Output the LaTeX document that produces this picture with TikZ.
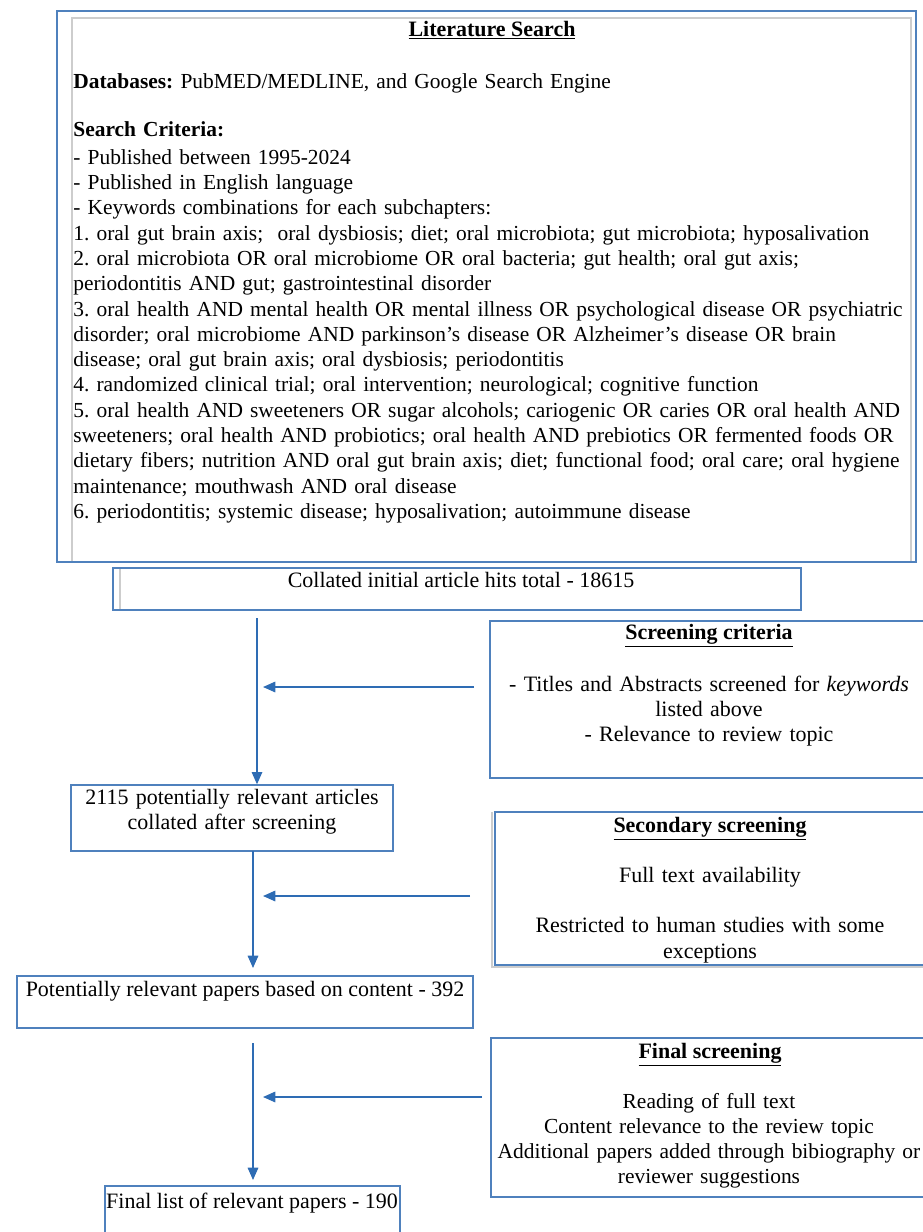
\documentclass[tikz,border=0pt]{standalone}
\usepackage{fontspec}
\setmainfont{Liberation Serif}
\usetikzlibrary{arrows.meta}
\definecolor{boxblue}{RGB}{79,129,189}
\definecolor{arrblue}{RGB}{46,108,180}
\definecolor{innergray}{RGB}{205,205,205}
\newcommand{\boxfont}{\fontsize{12.5pt}{14.4pt}\selectfont\frenchspacing}
\newcommand{\listfont}{\fontsize{12.2pt}{14.4pt}\selectfont\frenchspacing}
\begin{document}
\begin{tikzpicture}[x=0.02cm, y=-0.02cm,
    box/.style={draw=boxblue, line width=0.8pt, inner sep=0pt},
    txt/.style={inner sep=0pt, font=\boxfont},
    inner/.style={draw=innergray, line width=0.8pt},
    arr/.style={draw=arrblue, line width=0.8pt, -{Triangle[length=7pt,width=6pt]}}]
    \useasboundingbox (0,0) rectangle (923,1232);
    \clip (0,0) rectangle (923,1232);
    % boxes
    \node[box, minimum width=17.18cm, minimum height=11.02cm] (search) at (486.5,286.5) {};
    \draw[inner] (72,561) -- (72,18) -- (911,18) -- (911,561);
    \node[box, minimum width=13.76cm, minimum height=0.84cm] (hits) at (457,589) {};
    \draw[inner] (120,569) -- (120,609);
    \node[box, minimum width=9cm, minimum height=3.14cm] (screen) at (715,699.5) {};
    \node[box, minimum width=6.44cm, minimum height=1.32cm] (rel) at (232,818) {};
    \draw[inner] (492,812) -- (492,967) -- (940,967);
    \node[box, minimum width=8.9cm, minimum height=3.06cm] (second) at (717.5,888.5) {};
    \node[box, minimum width=9.12cm, minimum height=1.04cm] (pot) at (245,1002) {};
    \node[box, minimum width=8.98cm, minimum height=3.18cm] (final) at (715.5,1117.5) {};
    \node[box, minimum width=5.9cm, minimum height=1.48cm] (list) at (252.5,1223) {};
    % texts
    \node[txt, anchor=base] (search-title) at (492,36) {\underline{\textbf{Literature Search}}};
    \node[txt, font=\listfont, anchor=base west, text width=17.5cm, align=left] (search-body) at (73,88) {%
        \textbf{Databases:} PubMED/MEDLINE, and Google Search Engine\\[13.4pt]
        \textbf{Search Criteria:}\\[1.2pt]
        - Published between 1995-2024\\
        - Published in English language\\
        - Keywords combinations for each subchapters:\\
        1. oral gut brain axis;\ \ oral dysbiosis; diet; oral microbiota; gut microbiota; hyposalivation\\
        2. oral microbiota OR oral microbiome OR oral bacteria; gut health; oral gut axis;\\
        periodontitis AND gut; gastrointestinal disorder\\
        3. oral health AND mental health OR mental illness OR psychological disease OR psychiatric\\
        disorder; oral microbiome AND parkinson’s disease OR Alzheimer’s disease OR brain\\
        disease; oral gut brain axis; oral dysbiosis; periodontitis\\
        4. randomized clinical trial; oral intervention; neurological; cognitive function\\
        5. oral health AND sweeteners OR sugar alcohols; cariogenic OR caries OR oral health AND\\
        sweeteners; oral health AND probiotics; oral health AND prebiotics OR fermented foods OR\\
        dietary fibers; nutrition AND oral gut brain axis; diet; functional food; oral care; oral hygiene\\
        maintenance; mouthwash AND oral disease\\
        6. periodontitis; systemic disease; hyposalivation; autoimmune disease};
    \node[txt, anchor=base] (hits-text) at (461,587) {Collated initial article hits total - 18615};
    \node[txt, anchor=base] (screen-title) at (709,639) {\underline{\textbf{Screening criteria}}};
    \node[txt, anchor=base, text width=8.6cm, align=center] (screen-body) at (709,691) {%
        - Titles and Abstracts screened for \textit{keywords}\\
        listed above\\
        - Relevance to review topic};
    \node[txt, anchor=base, text width=6cm, align=center] (rel-text) at (232,804) {%
        2115 potentially relevant articles\\
        collated after screening};
    \node[txt, anchor=base] (second-title) at (710,832) {\underline{\textbf{Secondary screening}}};
    \node[txt, anchor=base, text width=8.6cm, align=center] (second-body) at (710,882) {%
        Full text availability\\[14.5pt]
        Restricted to human studies with some\\
        exceptions};
    \node[txt, anchor=base] (pot-text) at (245,996) {Potentially relevant papers based on content - 392};
    \node[txt, anchor=base] (final-title) at (710,1058) {\underline{\textbf{Final screening}}};
    \node[txt, font=\listfont, anchor=base, text width=9cm, align=center] (final-body) at (709,1108) {%
        Reading of full text\\
        Content relevance to the review topic\\
        Additional papers added through bibiography or\\
        reviewer suggestions};
    \node[txt, anchor=base] (list-text) at (252,1208) {Final list of relevant papers - 190};
    % arrows
    \coordinate (down1) at (257,618);
    \draw[arr] (down1) -- (down1 |- rel.north);
    \coordinate (in1) at (474,687);
    \coordinate (in1end) at (263,687);
    \draw[arr] (in1) -- (in1end);
    \coordinate (down2) at (253,851);
    \coordinate (down2end) at (253,968);
    \draw[arr] (down2) -- (down2end);
    \coordinate (in2) at (470,896);
    \coordinate (in2end) at (263,896);
    \draw[arr] (in2) -- (in2end);
    \coordinate (down3) at (253,1043);
    \coordinate (down3end) at (253,1180);
    \draw[arr] (down3) -- (down3end);
    \coordinate (in3) at (482,1097);
    \coordinate (in3end) at (263,1097);
    \draw[arr] (in3) -- (in3end);
\end{tikzpicture}
\end{document}
